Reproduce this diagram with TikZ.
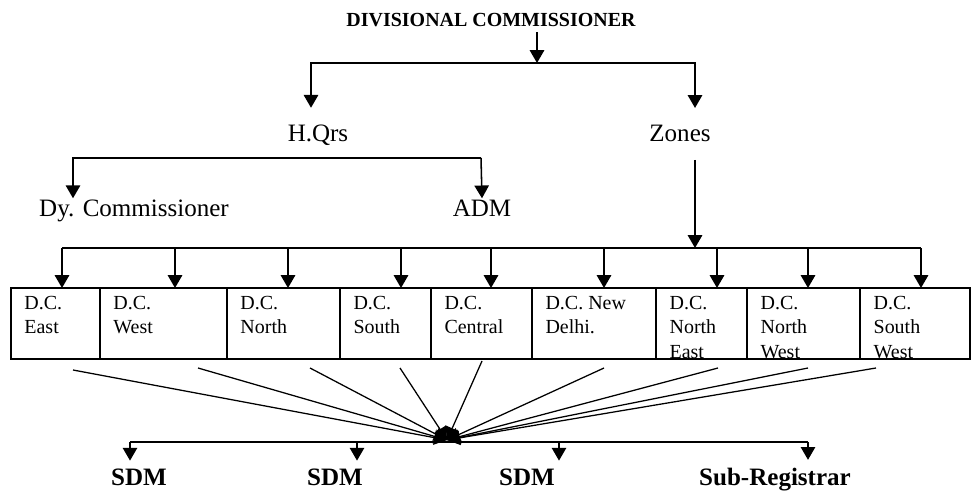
\documentclass[tikz,border=0pt]{standalone}
\usepackage{fontspec}
\setmainfont{Liberation Serif}
\usetikzlibrary{arrows.meta,positioning}

\begin{document}
\begin{tikzpicture}[
  x=0.025cm, y=-0.025cm,
  line width=1.1pt,
  >={Triangle[length=0.32cm,width=0.36cm]},
  topname/.style={font=\fontsize{14.2}{17}\selectfont\bfseries, inner sep=3pt},
  branch/.style={font=\fontsize{17.8}{21}\selectfont, inner sep=1pt},
  officer/.style={font=\fontsize{17.8}{21}\selectfont\bfseries, inner sep=5pt},
  cell/.style={draw, outer sep=0pt, inner sep=0pt, minimum height=1.775cm},
  celltext/.style={anchor=north west, align=left, inner xsep=9pt, inner ysep=5pt, font=\fontsize{14.2}{17.6}\selectfont},
  fan/.style={->, line width=0.9pt}
]
\useasboundingbox (0,0) rectangle (971,491);

\node[topname, anchor=base] (divcom) at (491,27) {DIVISIONAL COMMISSIONER};
\coordinate (split) at (537,63);

\node[branch, anchor=base, inner ysep=12pt] (hq) at (318,142) {H.Qrs};
\node[branch, anchor=base, inner ysep=12pt] (zones) at (680,142) {Zones};

\draw[->] (divcom.south -| split) -- (split);
\draw[->] (split) -| ([xshift=-0.175cm]hq.north);
\draw[->] (split) -| ([xshift=0.375cm]zones.north);

% headquarters
\coordinate (hql) at (73,158);
\coordinate (hqr) at (481,158);
\node[branch, anchor=base] (dy) at (134,217) {Dy. Commissioner};
\node[branch, anchor=base] (adm) at (482,217) {ADM};
\draw[->] (hqr) -- (hql) -- (hql |- dy.north);
\draw[->] (hqr) -- (adm.north);

% district row
\node[cell, anchor=north west, minimum width=2.225cm] (east) at (11,288) {};
\node[cell, right=0pt of east, minimum width=3.175cm] (west) {};
\node[cell, right=0pt of west, minimum width=2.825cm] (north) {};
\node[cell, right=0pt of north, minimum width=2.275cm] (south) {};
\node[cell, right=0pt of south, minimum width=2.525cm] (central) {};
\node[cell, right=0pt of central, minimum width=3.1cm] (newdelhi) {};
\node[cell, right=0pt of newdelhi, minimum width=2.275cm] (northeast) {};
\node[cell, right=0pt of northeast, minimum width=2.825cm] (northwest) {};
\node[cell, right=0pt of northwest, minimum width=2.75cm] (southwest) {};

\node[celltext] (eastt) at (east.north west) {D.C.\\East};
\node[celltext] (westt) at (west.north west) {D.C.\\West};
\node[celltext] (northt) at (north.north west) {D.C.\\North};
\node[celltext] (southt) at (south.north west) {D.C.\\South};
\node[celltext] (centralt) at (central.north west) {D.C.\\Central};
\node[celltext] (newdelhit) at (newdelhi.north west) {D.C. New\\Delhi.};
\node[celltext] (northeastt) at (northeast.north west) {D.C.\\North\\East};
\node[celltext] (northwestt) at (northwest.north west) {D.C.\\North\\West};
\node[celltext] (southwestt) at (southwest.north west) {D.C.\\South\\West};

% zones bus
\coordinate (t1) at (62,248);
\coordinate (t2) at (175,248);
\coordinate (t3) at (288,248);
\coordinate (t4) at (401,248);
\coordinate (t5) at (491,248);
\coordinate (t6) at (604,248);
\coordinate (t7) at (717,248);
\coordinate (t8) at (808,248);
\coordinate (t9) at (921,248);
\draw[->] ([xshift=0.375cm]zones.south) -- ([xshift=0.375cm]zones.south |- t1);
\draw (t1) -- (t9);
\draw[->] (t1) -- (t1 |- east.north);
\draw[->] (t2) -- (t2 |- west.north);
\draw[->] (t3) -- (t3 |- north.north);
\draw[->] (t4) -- (t4 |- south.north);
\draw[->] (t5) -- (t5 |- central.north);
\draw[->] (t6) -- (t6 |- newdelhi.north);
\draw[->] (t7) -- (t7 |- northeast.north);
\draw[->] (t8) -- (t8 |- northwest.north);
\draw[->] (t9) -- (t9 |- southwest.north);

% lines down to the hub
\coordinate (hub) at (447,440);
\coordinate (f1) at (73,370);
\coordinate (f2) at (198,368);
\coordinate (f3) at (310,368);
\coordinate (f4) at (400,368);
\coordinate (f5) at (482,361);
\coordinate (f6) at (604,368);
\coordinate (f7) at (718,368);
\coordinate (f8) at (808,368);
\coordinate (f9) at (876,368);
\draw[fan] (f1) -- (hub);
\draw[fan] (f2) -- (hub);
\draw[fan] (f3) -- (hub);
\draw[fan] (f4) -- (hub);
\draw[fan] (f5) -- (hub);
\draw[fan] (f6) -- (hub);
\draw[fan] (f7) -- (hub);
\draw[fan] (f8) -- (hub);
\draw[fan] (f9) -- (hub);

% sub-divisions
\coordinate (s1) at (130,442);
\coordinate (s2) at (357,442);
\coordinate (s3) at (559,442);
\coordinate (s4) at (808,442);
\node[officer, anchor=base] (sdma) at (139,485) {SDM};
\node[officer, anchor=base] (sdmb) at (335,485) {SDM};
\node[officer, anchor=base] (sdmc) at (527,485) {SDM};
\node[officer, anchor=base] (subreg) at (775,485) {Sub-Registrar};
\draw (s1) -- (s4);
\draw[->] (s1) -- (s1 |- sdma.north);
\draw[->] (s2) -- (s2 |- sdmb.north);
\draw[->] (s3) -- (s3 |- sdmc.north);
\draw[->] (s4) -- (s4 |- subreg.north);

\end{tikzpicture}
\end{document}
